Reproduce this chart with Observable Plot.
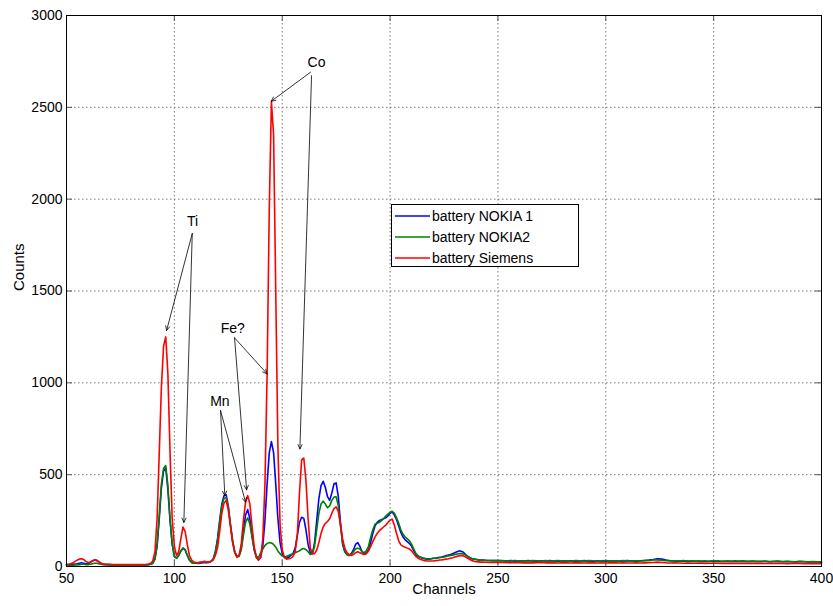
<!DOCTYPE html>
<html><head><meta charset="utf-8">
<script src="https://cdn.jsdelivr.net/npm/d3@7"></script>
<script src="https://cdn.jsdelivr.net/npm/@observablehq/plot@0.6"></script>
<style>body{margin:0;background:#fff;} svg{display:block;}</style>
</head><body><div id="chart"></div>
<script>
// channel axis: every channel 50..250, every second channel 252..400
const channels = d3.range(50, 251).concat(d3.range(252, 401, 2));

const nokia1 = [
  10,10,12,12,14,15,18,20,18,15,
  16,22,30,36,34,25,18,14,12,10,
  10,9,8,8,9,8,8,8,9,8,
  8,8,9,8,8,8,9,9,10,12,
  18,40,110,260,430,520,535,420,250,120,
  55,45,60,85,100,90,60,35,22,18,
  18,17,18,20,22,20,22,28,40,80,
  150,250,340,385,390,330,230,140,80,55,
  60,100,190,280,310,260,170,90,50,35,
  50,110,250,450,620,680,620,450,260,130,
  70,50,45,50,60,70,100,170,240,268,
  262,200,120,75,70,130,250,370,440,464,
  430,380,360,400,450,455,380,240,120,80,
  65,60,70,90,120,130,110,80,70,75,
  90,130,180,220,240,250,255,260,265,275,
  290,296,280,255,220,185,160,145,135,125,
  110,85,65,55,50,45,42,40,40,42,
  45,45,48,50,52,55,60,62,65,70,
  75,80,85,83,78,65,55,48,42,40,
  38,36,35,35,34,33,33,32,32,32,32,
  31,30,32,29,31,30,33,30,29,31,30,32,30,29,31,
  30,31,29,30,32,30,29,31,30,29,30,31,29,30,32,
  30,29,31,33,35,38,42,40,35,31,30,29,30,28,29,
  28,29,27,28,30,28,27,29,28,27,28,29,27,28,27,
  27,28,26,27,28,26,27,26,25,27,26,25,26,25,24
];

const nokia2 = [
  5,5,6,6,8,8,10,12,12,10,
  10,12,15,18,18,15,12,10,8,8,
  8,8,7,7,8,7,7,8,8,7,
  7,8,8,7,8,8,8,9,10,12,
  18,42,120,280,450,535,550,440,260,125,
  55,45,60,85,100,92,62,36,22,18,
  18,18,20,22,25,22,24,28,40,75,
  140,240,330,370,375,320,225,140,80,55,
  55,90,170,240,265,230,160,95,55,50,
  75,95,115,125,130,128,120,105,85,70,
  58,52,55,60,65,70,75,80,85,95,
  98,92,80,65,70,110,200,290,340,356,
  340,320,330,360,378,380,330,220,130,85,
  65,60,65,80,95,100,95,80,75,85,
  110,160,200,230,235,240,250,260,275,285,
  295,301,290,265,235,200,175,160,150,140,
  120,95,70,58,52,48,45,42,42,42,
  44,45,46,48,50,52,55,58,60,62,
  65,68,70,70,68,62,55,48,42,40,
  38,36,35,34,34,33,33,32,32,32,32,
  32,30,31,33,30,31,30,32,31,30,33,30,31,32,30,
  31,30,32,31,30,33,31,30,31,32,30,31,30,32,31,
  30,31,30,32,33,35,36,34,32,30,31,30,32,30,29,
  30,29,31,29,30,31,29,30,28,31,29,30,28,29,28,
  28,29,27,28,29,27,28,27,26,28,27,26,27,26,25
];

const siemens = [
  10,12,15,20,28,35,40,42,38,28,
  22,25,30,35,32,25,18,14,12,12,
  12,11,10,10,11,10,10,10,11,10,
  10,10,11,10,10,10,11,12,14,18,
  30,80,260,620,980,1200,1250,1050,620,260,
  110,60,80,150,215,190,120,60,35,25,
  22,22,24,25,28,25,25,28,35,60,
  100,190,290,345,360,310,220,130,75,50,
  60,120,250,350,386,340,220,110,50,35,
  50,150,450,1050,1950,2530,2350,1500,650,230,
  90,50,40,42,45,55,80,170,400,580,
  590,470,260,100,70,70,90,130,180,215,
  235,245,260,290,315,325,300,230,150,100,
  75,65,60,65,75,80,75,70,65,70,
  85,110,135,160,180,195,205,215,225,240,
  252,258,225,180,140,118,110,105,100,95,
  85,70,55,45,40,35,32,30,30,30,
  30,32,33,35,36,38,40,42,45,48,
  52,55,58,60,58,52,45,38,32,28,
  26,25,24,24,23,23,22,22,22,22,22,
  22,21,20,22,21,20,21,20,21,22,20,21,20,19,21,
  20,19,21,20,19,20,21,19,20,19,20,21,19,20,19,
  19,20,19,20,21,22,24,22,20,19,20,19,18,19,18,
  18,19,17,18,19,18,17,18,17,18,17,18,17,16,17,
  17,16,17,16,17,16,15,16,17,16,15,16,15,16,15
];

const seriesNames = ["battery NOKIA 1", "battery NOKIA2", "battery Siemens"];
const seriesColors = ["#0000ff", "#008000", "#ff0000"];
const xTicks = [50, 100, 150, 200, 250, 300, 350, 400];
const yTicks = [0, 500, 1000, 1500, 2000, 2500, 3000];
const xGrid = [100, 150, 200, 250, 300, 350];
const yGrid = [500, 1000, 1500, 2000, 2500];

// annotation labels (data coordinates)
const noteLabels = ["Ti", "Co", "Fe?", "Mn"];
const noteX = [108.4, 165.9, 127.1, 121.1];
const noteY = [1878, 2744, 1294, 900];
// arrows: start and end in data coordinates
const arrowX1 = [108.3, 108.3, 163.1, 163.6, 127.9, 127.9, 121.4, 121.4];
const arrowY1 = [1813, 1813, 2691, 2672, 1245, 1245, 849, 849];
const arrowX2 = [96.4, 104.4, 144.9, 158.2, 143.0, 133.5, 123.4, 133.0];
const arrowY2 = [1285, 240, 2533, 640, 1049, 417, 386, 350];

const rows = [];
[nokia1, nokia2, siemens].forEach((arr, i) => {
  if (arr.length !== channels.length) console.error("length mismatch", i, arr.length, channels.length);
  arr.forEach((v, j) => rows.push({series: seriesNames[i], channel: channels[j], counts: v}));
});
const notes = noteLabels.map((t, i) => ({text: t, x: noteX[i], y: noteY[i]}));
const arrows = arrowX1.map((_, i) => ({x1: arrowX1[i], y1: arrowY1[i], x2: arrowX2[i], y2: arrowY2[i]}));

const W = 833, H = 606, mL = 66, mT = 15, mR = 12, mB = 40;
const frameH = H - mT - mB, frameW = W - mL - mR;
const font = "'Liberation Sans', Arial, Helvetica, sans-serif";

const plot = Plot.plot({
  width: W, height: H,
  marginLeft: mL, marginRight: mR, marginTop: mT, marginBottom: mB,
  style: {fontFamily: font, fontSize: "14px", color: "#000", background: "#fff"},
  x: {domain: [50, 400]},
  y: {domain: [0, 3000]},
  color: {domain: seriesNames, range: seriesColors},
  marks: [
    Plot.ruleX(xGrid, {x: d => d, stroke: "#777", strokeWidth: 1, strokeDasharray: "1.5,2.5"}),
    Plot.ruleY(yGrid, {y: d => d, stroke: "#777", strokeWidth: 1, strokeDasharray: "1.5,2.5"}),
    Plot.ruleX(xTicks, {x: d => d, insetTop: frameH - 6, stroke: "#555"}),
    Plot.ruleX(xTicks, {x: d => d, insetBottom: frameH - 6, stroke: "#555"}),
    Plot.ruleY(yTicks, {y: d => d, insetRight: frameW - 6, stroke: "#555"}),
    Plot.ruleY(yTicks, {y: d => d, insetLeft: frameW - 6, stroke: "#555"}),
    Plot.axisX(xTicks, {tickSize: 0, tickPadding: 7, label: null, fontSize: 14, tickFormat: d => String(d)}),
    Plot.axisY(yTicks, {tickSize: 0, tickPadding: 4, label: null, fontSize: 14, tickFormat: d => String(d)}),
    Plot.lineY(rows, {x: "channel", y: "counts", z: "series", stroke: "series", strokeWidth: 1.6}),
    Plot.frame({stroke: "#000", strokeWidth: 1}),
    Plot.arrow(arrows, {x1: "x1", y1: "y1", x2: "x2", y2: "y2", stroke: "#000", strokeWidth: 0.8, headLength: 9, headAngle: 50}),
    Plot.text(notes, {x: "x", y: "y", text: "text", fontSize: 14, fill: "#000"}),
    Plot.text(["Channels"], {frameAnchor: "bottom", dy: 27, fontSize: 15, fill: "#000"}),
    Plot.text(["Counts"], {frameAnchor: "left", dx: -47, rotate: -90, fontSize: 15, fill: "#000"})
  ]
});

// legend box inside the plot
const svg = d3.select(plot);
const lg = svg.append("g").attr("font-family", font).attr("font-size", 14).attr("text-anchor", "start");
lg.append("rect").attr("x", 391.5).attr("y", 204.5).attr("width", 187).attr("height", 62)
  .attr("fill", "#fff").attr("stroke", "#000").attr("stroke-width", 1);
seriesNames.forEach((name, i) => {
  const y = 216 + i * 21;
  lg.append("line").attr("x1", 395).attr("x2", 430).attr("y1", y).attr("y2", y)
    .attr("stroke", seriesColors[i]).attr("stroke-width", 1.6);
  lg.append("text").attr("x", 432).attr("y", y).attr("dy", "0.35em").attr("fill", "#000")
    .attr("text-anchor", "start").text(name);
});

document.getElementById("chart").appendChild(plot);
</script>
</body></html>
